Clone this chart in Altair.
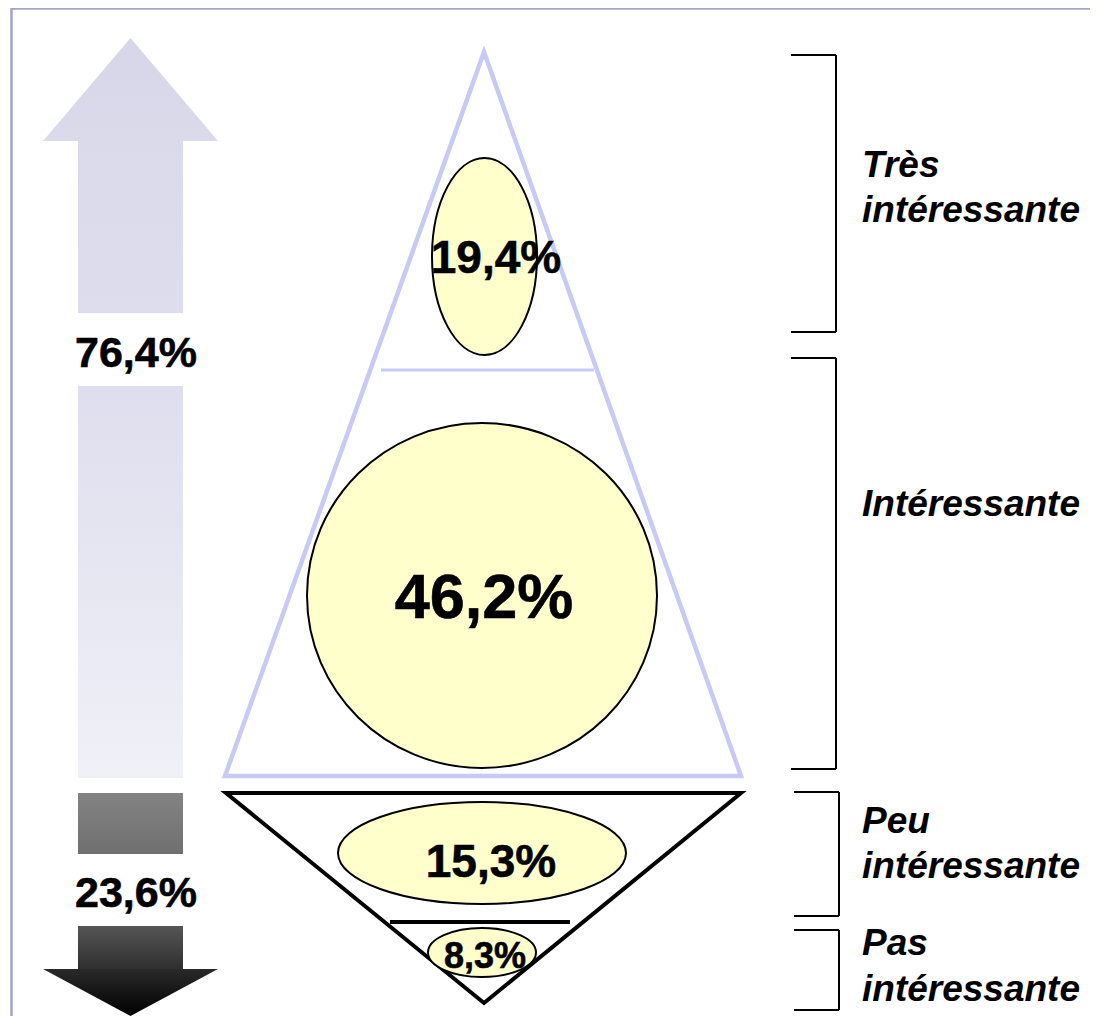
import altair as alt
import pandas as pd

# ---------------- data (values & texts) ----------------
pct_labels = ["19,4%", "46,2%", "15,3%", "8,3%"]
total_labels = ["76,4%", "23,6%"]
category_lines = [["Très", "intéressante"], ["Intéressante"], ["Peu", "intéressante"], ["Pas", "intéressante"]]

# ---------------- layout (page pixel coordinates) ----------------
W, H = 1082, 1008
OX, OY = 8, 8
xs = alt.Scale(domain=[OX, OX + W], nice=False, zero=False)
ys = alt.Scale(domain=[OY + H, OY], nice=False, zero=False)

def X(f, **k):
    return alt.X(f, type="quantitative", scale=xs, axis=None, **k)

def Y(f, **k):
    return alt.Y(f, type="quantitative", scale=ys, axis=None, **k)

ell_cx = [484.5, 482, 482, 482]
ell_cy = [256.5, 595.5, 853, 952.5]
ell_w = [105, 350, 288, 108]
ell_h = [197, 345, 102, 49]

pct_x = [496, 484, 491, 485]
pct_y = [273, 618, 877, 968]
pct_size = [46, 63, 46, 36]

total_x = [136, 136]
total_y = [367, 907]

label_x = 862
label_y = [[177, 222], [516], [833, 878], [955, 1001]]

bracket_xl = [791, 791, 794, 794]
bracket_xr = [836, 836, 839, 839]
bracket_yt = [55, 358, 792, 930]
bracket_yb = [332, 769, 916, 1010]

# triangles (closed path starting at middle of first edge)
light_tri_x = [483, 741, 484, 225, 483]
light_tri_y = [776, 776, 52, 776, 776]
dark_tri_x = [483, 741, 484, 226, 483]
dark_tri_y = [793, 793, 1003, 793, 793]

dividers = pd.DataFrame({
    "x": [381, 390], "x2": [594, 570], "y": [370, 922],
    "col": ["#c9c9f7", "#000000"], "sw": [3, 4],
})

# ---------------- layers ----------------
def grad(c1, c2):
    return alt.Gradient(gradient="linear",
                        stops=[alt.GradientStop(color=c1, offset=0),
                               alt.GradientStop(color=c2, offset=1)],
                        x1=0, x2=0, y1=0, y2=1)

layers = []

# frame
frame = pd.DataFrame({"x": [11.5, 11], "x2": [11.5, 1092], "y": [8, 8.5], "y2": [1016, 8.5]})
layers.append(alt.Chart(frame).mark_rule(color="#a3a3cc", strokeWidth=2.5).encode(
    x=X("x"), x2="x2", y=Y("y"), y2="y2"))

# arrows
def rect_layer(x1, x2, y1, y2, c1, c2):
    df = pd.DataFrame({"x": [x1], "x2": [x2], "y": [y1], "y2": [y2]})
    return alt.Chart(df).mark_rect(color=grad(c1, c2)).encode(
        x=X("x"), x2="x2", y=Y("y"), y2="y2")

def head_layer(xv, yv, base, c1, c2):
    df = pd.DataFrame({"x": xv, "y": yv, "y2": [base] * len(xv)})
    return alt.Chart(df).mark_area(color=grad(c1, c2), interpolate="linear").encode(
        x=X("x"), y=Y("y"), y2="y2")

layers.append(head_layer([43, 130.5, 218], [141, 38, 141], 141, "#d6d6e9", "#dadaeb"))
layers.append(rect_layer(78, 183, 140.5, 313, "#dadaeb", "#dddded"))
layers.append(rect_layer(78, 183, 386, 778, "#dedeee", "#f0f0f7"))
layers.append(rect_layer(78, 183, 793, 854, "#838383", "#707070"))
layers.append(rect_layer(78, 183, 926, 969.5, "#555555", "#2e2e2e"))
layers.append(head_layer([43, 130.5, 218], [969, 1016, 969], 969, "#2a2a2a", "#000000"))

# triangles
tri_l = pd.DataFrame({"x": light_tri_x, "y": light_tri_y, "i": range(5)})
layers.append(alt.Chart(tri_l).mark_line(color="#c9c9f7", strokeWidth=4.5, strokeJoin="miter").encode(
    x=X("x"), y=Y("y"), order="i:Q"))
tri_d = pd.DataFrame({"x": dark_tri_x, "y": dark_tri_y, "i": range(5)})
layers.append(alt.Chart(tri_d).mark_line(color="#000000", strokeWidth=4, strokeJoin="miter").encode(
    x=X("x"), y=Y("y"), order="i:Q"))
layers.append(alt.Chart(dividers).mark_rule().encode(
    x=X("x"), x2="x2", y=Y("y"),
    color=alt.Color("col:N", scale=None), strokeWidth=alt.StrokeWidth("sw:Q", scale=None)))

# ellipses
paths, sizes = [], []
for w, h in zip(ell_w, ell_h):
    s = max(w, h)
    rx, ry = w / s, h / s
    paths.append(f"M {-rx:.4f} 0 A {rx:.4f} {ry:.4f} 0 1 0 {rx:.4f} 0 A {rx:.4f} {ry:.4f} 0 1 0 {-rx:.4f} 0 Z")
    sizes.append(s * s)
ell = pd.DataFrame({"x": ell_cx, "y": ell_cy, "path": paths, "size": sizes})
layers.append(alt.Chart(ell).mark_point(filled=True, fill="#ffffcc", stroke="#000000",
                                        strokeWidth=2, opacity=1, fillOpacity=1).encode(
    x=X("x"), y=Y("y"), shape=alt.Shape("path:N", scale=None),
    size=alt.Size("size:Q", scale=None)))

# brackets
br_rows = []
for xl, xr, yt, yb in zip(bracket_xl, bracket_xr, bracket_yt, bracket_yb):
    br_rows.append({"x": xl, "x2": xr, "y": yt, "y2": yt})
    br_rows.append({"x": xr, "x2": xr, "y": yt, "y2": yb})
    br_rows.append({"x": xl, "x2": xr, "y": yb, "y2": yb})
layers.append(alt.Chart(pd.DataFrame(br_rows)).mark_rule(color="#000000", strokeWidth=2).encode(
    x=X("x"), x2="x2", y=Y("y"), y2="y2"))

# percentage texts
pct = pd.DataFrame({"t": pct_labels, "x": pct_x, "y": pct_y, "s": pct_size})
layers.append(alt.Chart(pct).mark_text(font="Liberation Sans", fontWeight="bold", align="center",
                                       baseline="alphabetic", color="#000000",
                                       stroke="#000000", strokeWidth=0.6).encode(
    x=X("x"), y=Y("y"), text="t:N", size=alt.Size("s:Q", scale=None)))

tot = pd.DataFrame({"t": total_labels, "x": total_x, "y": total_y})
layers.append(alt.Chart(tot).mark_text(font="Liberation Sans", fontWeight="bold", align="center",
                                       baseline="alphabetic", color="#000000", fontSize=43,
                                       stroke="#000000", strokeWidth=0.6).encode(
    x=X("x"), y=Y("y"), text="t:N"))

lab_rows = []
for lines, ys_ in zip(category_lines, label_y):
    for t, yy in zip(lines, ys_):
        lab_rows.append({"t": t, "x": label_x, "y": yy})
layers.append(alt.Chart(pd.DataFrame(lab_rows)).mark_text(
    font="Liberation Sans", fontWeight="bold", fontStyle="italic", align="left",
    baseline="alphabetic", color="#000000", fontSize=37).encode(
    x=X("x"), y=Y("y"), text="t:N"))

chart = alt.layer(*layers).properties(
    width=W, height=H, padding=0,
    autosize=alt.AutoSizeParams(type="none"),
).configure_view(stroke=None)

chart.save("out.html", embed_options={"renderer": "svg", "actions": False})
